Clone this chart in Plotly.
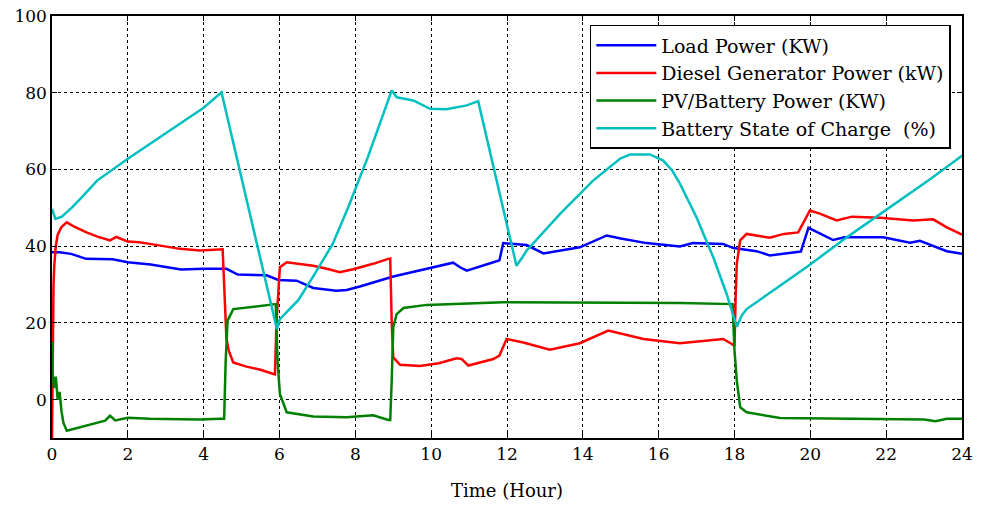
import plotly.graph_objects as go

# ---- data ----
load_t = [0, 0.2, 0.5, 0.9, 1.6, 2.0, 2.6, 3.4, 4.0, 4.6, 4.9, 5.66, 5.97, 6.45, 6.89, 7.5, 7.77, 8.12,
          9.0, 10.4, 10.58, 10.76, 10.94, 11.64, 11.8, 11.9, 12.52, 12.96, 13.92, 14.63, 15.0, 15.68,
          16.56, 16.9, 17.7, 17.97, 18.58, 18.93, 19.64, 19.75, 19.95, 20.6, 20.9, 21.92, 22.63, 22.89,
          23.6, 23.95, 24]
load_v = [38.4, 38.4, 38.0, 36.7, 36.6, 35.8, 35.2, 33.9, 34.1, 34.1, 32.6, 32.4, 31.2, 31.0, 29.1,
          28.4, 28.6, 29.5, 32.1, 35.2, 35.7, 34.5, 33.6, 35.8, 36.3, 40.8, 40.3, 38.1, 39.7, 42.8,
          42.0, 40.8, 39.9, 40.8, 40.6, 39.5, 38.7, 37.6, 38.4, 38.6, 44.8, 41.6, 42.3, 42.3, 40.9,
          41.4, 38.7, 38.1, 38.0]

diesel_t = [0, 0.02, 0.04, 0.06, 0.08, 0.1, 0.15, 0.25, 0.39, 0.6, 0.91, 1.2, 1.53, 1.7, 2.0, 2.3,
            2.58, 3.38, 3.9, 4.43, 4.5, 4.54, 4.6, 4.66, 4.78, 5.13, 5.5, 5.84, 5.88, 5.92, 6.01,
            6.19, 6.89, 7.3, 7.59, 7.94, 8.47, 8.87, 8.92, 8.96, 9.0, 9.18, 9.7, 10.2, 10.67, 10.8,
            10.98, 11.64, 11.8, 11.99, 12.43, 13.13, 13.92, 14.67, 15.6, 16.56, 17.7, 17.93, 18.0,
            18.03, 18.06, 18.15, 18.32, 18.93, 19.3, 19.68, 19.99, 20.25, 20.69, 21.1, 21.84, 22.71,
            23.24, 23.6, 23.95, 24]
diesel_v = [-10, 20, 30, 35, 38, 40, 43, 45, 46.2, 45, 43.6, 42.5, 41.5, 42.4, 41.2, 41.0, 40.6,
            39.3, 38.9, 39.3, 39.2, 30, 16, 12.8, 9.7, 8.6, 7.8, 6.7, 6.6, 20, 34.5, 35.8, 34.9,
            34.0, 33.2, 34.0, 35.4, 36.7, 36.8, 20, 11.0, 9.1, 8.8, 9.5, 10.8, 10.6, 8.9, 10.6,
            11.5, 15.8, 14.9, 13.0, 14.7, 18.0, 15.8, 14.7, 15.8, 14.5, 14.0, 26.7, 35.4, 41.5,
            43.2, 42.2, 43.2, 43.6, 49.3, 48.5, 46.7, 47.7, 47.4, 46.7, 47.0, 44.9, 43.2, 43.0]

pv_t = [0, 0.01, 0.05, 0.1, 0.15, 0.2, 0.25, 0.3, 0.39, 0.91, 1.4, 1.53, 1.67, 2.0, 2.58, 3.4, 3.9,
        4.43, 4.54, 4.58, 4.63, 4.78, 5.13, 5.84, 5.9, 5.95, 6.01, 6.19, 6.89, 7.77, 8.47, 8.87,
        8.92, 8.96, 9.0, 9.09, 9.27, 9.88, 11.9, 16.56, 17.95, 18.0, 18.06, 18.15, 18.32, 19.2,
        20.9, 23.0, 23.3, 23.6, 24]
pv_v = [15, 8, 3, 6, 0, 2, -3, -6, -8.1, -6.8, -5.5, -4.2, -5.4, -4.7, -5.0, -5.1, -5.2, -5.0, -5.0,
        10, 20.6, 23.6, 24.0, 24.9, 24.9, 10, 1.5, -3.3, -4.4, -4.6, -4.1, -5.3, -5.3, 5, 18.9,
        22.3, 23.9, 24.7, 25.4, 25.2, 24.9, 12.8, 5.0, -2.0, -3.3, -4.8, -5.0, -5.2, -5.6, -5.0,
        -5.0]

soc_t = [0, 0.09, 0.26, 0.53, 0.79, 1.19, 2.0, 3.0, 4.0, 4.47, 5.93, 6.01, 6.2, 6.5, 6.93, 7.4,
         7.81, 8.33, 8.96, 9.09, 9.53, 9.97, 10.4, 10.94, 11.24, 12.25, 12.38, 12.52, 13.4, 14.27,
         14.98, 15.24, 15.77, 16.12, 16.35, 16.56, 17.0, 17.44, 17.79, 18.06, 18.19, 18.32, 19.2,
         19.95, 20.96, 21.84, 23.11, 24]
soc_v = [49.7, 47.1, 47.7, 50.1, 52.8, 57.1, 62.8, 69.5, 76.1, 80.1, 18.4, 21.0, 23.0, 26.0, 32.8,
         40.5, 50.1, 63.2, 80.6, 78.8, 78.0, 75.8, 75.7, 76.7, 77.8, 34.9, 36.7, 38.9, 48.4, 57.1,
         62.8, 63.9, 63.9, 62.3, 59.8, 56.3, 47.5, 37.1, 27.6, 19.0, 21.9, 23.6, 29.7, 34.9, 42.3,
         48.4, 57.1, 63.6]

x_ticks = [0, 2, 4, 6, 8, 10, 12, 14, 16, 18, 20, 22, 24]
y_ticks = [0, 20, 40, 60, 80, 100]

FONT = "DejaVu Serif, serif"

fig = go.Figure()
series = [
    (load_t, load_v, "Load Power (KW)", "#0000FF"),
    (diesel_t, diesel_v, "Diesel Generator Power (kW)", "#FF0000"),
    (pv_t, pv_v, "PV/Battery Power (KW)", "#008000"),
    (soc_t, soc_v, "Battery State of Charge  (%)", "#00BFBF"),
]
for t, v, name, color in series:
    fig.add_trace(go.Scatter(x=t, y=v, mode="lines", name=name,
                             line=dict(color=color, width=2.5)))

axis_common = dict(
    showline=True, linecolor="black", linewidth=1.5, mirror="ticks",
    ticks="inside", ticklen=5, tickcolor="black", tickwidth=1,
    showgrid=True, gridcolor="black", gridwidth=1, griddash="3px,3px",
    zeroline=False, automargin=False,
    tickfont=dict(family=FONT, size=17, color="black"),
)

fig.update_layout(
    width=986, height=507,
    margin=dict(l=52, r=24, t=16, b=69, autoexpand=False),
    paper_bgcolor="white", plot_bgcolor="white",
    font=dict(family=FONT, color="black"),
    xaxis=dict(range=[0, 24], tickvals=x_ticks,
               title=dict(text="Time (Hour)", font=dict(family=FONT, size=18), standoff=21),
               **axis_common),
    yaxis=dict(range=[-10, 100], tickvals=y_ticks, **axis_common),
    legend=dict(x=0.591, y=0.979, xanchor="left", yanchor="top",
                bgcolor="white", bordercolor="black", borderwidth=1.5,
                font=dict(family=FONT, size=19, color="black"),
                itemwidth=60, tracegroupgap=0),
    showlegend=True,
)

fig.write_html("out.html")
